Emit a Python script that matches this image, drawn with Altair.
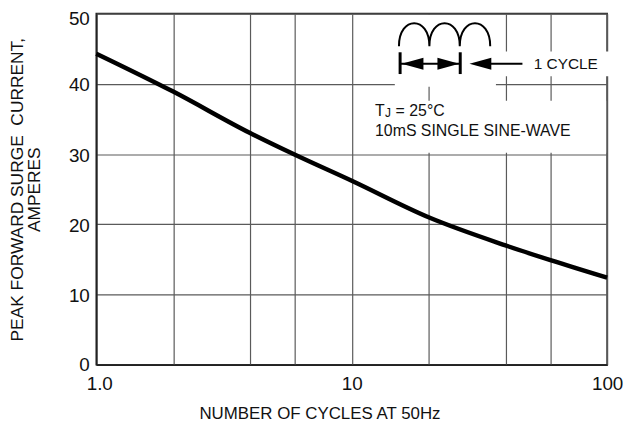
import altair as alt
import pandas as pd

# ---- curve data ----
cycles = [1, 2, 4, 6, 10, 20, 40, 60, 100]
current = [44.3, 38.9, 33.0, 29.9, 26.2, 21.0, 17.0, 14.9, 12.4]

# ---- axes ----
x_grid = [1, 2, 4, 6, 10, 20, 40, 60, 100]
y_ticks = [0, 10, 20, 30, 40, 50]
y_title = ["PEAK FORWARD SURGE\u00a0 CURRENT,", "AMPERES"]
x_title = "NUMBER OF CYCLES AT 50Hz"

# ---- annotation (data units) ----
box_x = [14.75, 38.4, 11.7]
box_x2 = [36.7, 101.8, 99.1]
box_y = [39.6, 41.1, 30.2]
box_y2 = [49.8, 44.6, 37.6]

arch_x = [23.1]
arch_y = [47.0]
bar_x = [15.47, 26.6]
bar_y = [41.4, 41.4]
bar_y2 = [44.5, 44.5]
arrow_line_x = [15.47, 31.9]
arrow_line_x2 = [26.6, 46.6]
arrow_line_y = [42.85, 42.85]
head_x = [17.3, 23.9, 31.9]
head_y = [42.85, 42.85, 42.85]
head_dir = ["left", "right", "left"]

label_text = ["1 CYCLE", "T", "J", "= 25°C", "10mS SINGLE SINE-WAVE"]
label_x = [51.6, 12.34, 13.5, 14.85, 12.34]
label_y = [42.85, 35.45, 35.25, 35.45, 32.6]
label_size = [15.5, 16, 12, 16, 16]
label_base = ["middle", "alphabetic", "alphabetic", "alphabetic", "alphabetic"]

FONT = "Liberation Sans"
XS = alt.Scale(type="log", domain=[1, 100], nice=False)
YS = alt.Scale(domain=[0, 50], nice=False, zero=False)

LEFT_PATH = "M -1 0 L 1 -0.55 L 1 0.55 Z"
RIGHT_PATH = "M 1 0 L -1 -0.55 L -1 0.55 Z"
ARCH_PATH = ("M -1 0.25 C -1 -0.42 -0.333 -0.42 -0.333 0.25 "
             "M -0.333 0.25 C -0.333 -0.42 0.333 -0.42 0.333 0.25 "
             "M 0.333 0.25 C 0.333 -0.42 1 -0.42 1 0.25")

label_expr = ("datum.value == 1 ? '1.0' : datum.value == 10 ? '10' : "
              "datum.value == 100 ? '100' : ''")

X_AXIS = alt.Axis(
    values=x_grid, labelExpr=label_expr, title=x_title, grid=True,
    gridColor="#5a5a5a", gridWidth=1.2, domainColor="#222", domainWidth=1.6,
    ticks=False, tickSize=0, labelPadding=10, labelFlush=False,
    labelOffset=alt.condition("datum.value == 1", alt.value(3), alt.value(0)),
    labelOverlap=False, labelFont=FONT, labelFontSize=19, labelColor="#111",
    titleFont=FONT, titleFontSize=17, titleFontWeight="normal", titleColor="#111",
    titleX=225, titleY=54, titleAlign="center", titleBaseline="alphabetic")
Y_AXIS = alt.Axis(
    values=y_ticks, title=y_title, grid=True, gridColor="#5a5a5a", gridWidth=1.2,
    domainColor="#222", domainWidth=1.6, ticks=False, tickSize=0, labelPadding=7,
    labelBaseline=alt.condition("datum.value == 50", alt.value("top"), alt.value("middle")),
    labelOffset={"condition": [{"test": "datum.value == 50", "value": -4},
                               {"test": "datum.value == 0", "value": -0.5}],
                 "value": 1},
    labelFont=FONT, labelFontSize=19, labelColor="#111", labelFlush=False,
    titleFont=FONT, titleFontSize=17.5, titleFontWeight="normal", titleColor="#111",
    titleAngle=270, titleX=-74, titleY=177, titleAlign="center",
    titleBaseline="alphabetic", titleLineHeight=16.5)


def X(field="cycles"):
    return alt.X(f"{field}:Q", scale=XS, axis=X_AXIS)


def Y(field="current"):
    return alt.Y(f"{field}:Q", scale=YS, axis=Y_AXIS)


curve_df = pd.DataFrame({"cycles": cycles, "current": current})
curve = alt.Chart(curve_df).mark_line(color="#000", strokeWidth=4.5,
                                      interpolate="monotone").encode(x=X(), y=Y())

boxes = alt.Chart(pd.DataFrame({"cycles": box_x, "cycles2": box_x2,
                                "current": box_y, "current2": box_y2})).mark_rect(
    color="white").encode(x=X(), x2="cycles2:Q", y=Y(), y2="current2:Q")

arches = alt.Chart(pd.DataFrame({"cycles": arch_x, "current": arch_y})).mark_point(
    shape=ARCH_PATH, size=8464, filled=False, stroke="#000", strokeWidth=2, opacity=1).encode(
    x=X(), y=Y())

bars = alt.Chart(pd.DataFrame({"cycles": bar_x, "current": bar_y, "current2": bar_y2})).mark_rule(
    color="#000", strokeWidth=3).encode(x=X(), y=Y(), y2="current2:Q")

arrow_lines = alt.Chart(pd.DataFrame({"cycles": arrow_line_x, "cycles2": arrow_line_x2,
                                      "current": arrow_line_y})).mark_rule(
    color="#000", strokeWidth=2).encode(x=X(), x2="cycles2:Q", y=Y())

head_df = pd.DataFrame({"cycles": head_x, "current": head_y,
                        "shape": [LEFT_PATH if d == "left" else RIGHT_PATH for d in head_dir]})
heads = alt.Chart(head_df).mark_point(filled=True, size=484, color="#000", opacity=1).encode(
    x=X(), y=Y(), shape=alt.Shape("shape:N", scale=None))

lab_df = pd.DataFrame({"cycles": label_x, "current": label_y, "t": label_text,
                       "s": label_size, "b": label_base})
lab_mid = alt.Chart(lab_df[lab_df.b == "middle"]).mark_text(
    align="left", baseline="middle", font=FONT, color="#111").encode(
    x=X(), y=Y(), text="t:N", size=alt.Size("s:Q", scale=None))
lab_alpha = alt.Chart(lab_df[lab_df.b == "alphabetic"]).mark_text(
    align="left", baseline="alphabetic", font=FONT, color="#111").encode(
    x=X(), y=Y(), text="t:N", size=alt.Size("s:Q", scale=None))

chart = alt.layer(curve, boxes, arches, bars, arrow_lines, heads, lab_mid, lab_alpha).properties(
    width=515, height=354,
    autosize=alt.AutoSizeParams(type="none"),
    padding={"left": 89, "top": 4, "right": 16, "bottom": 59},
    background="white",
).configure_view(stroke="#222", strokeWidth=1.6)

chart.save("out.html", embed_options={"renderer": "svg", "actions": False})
